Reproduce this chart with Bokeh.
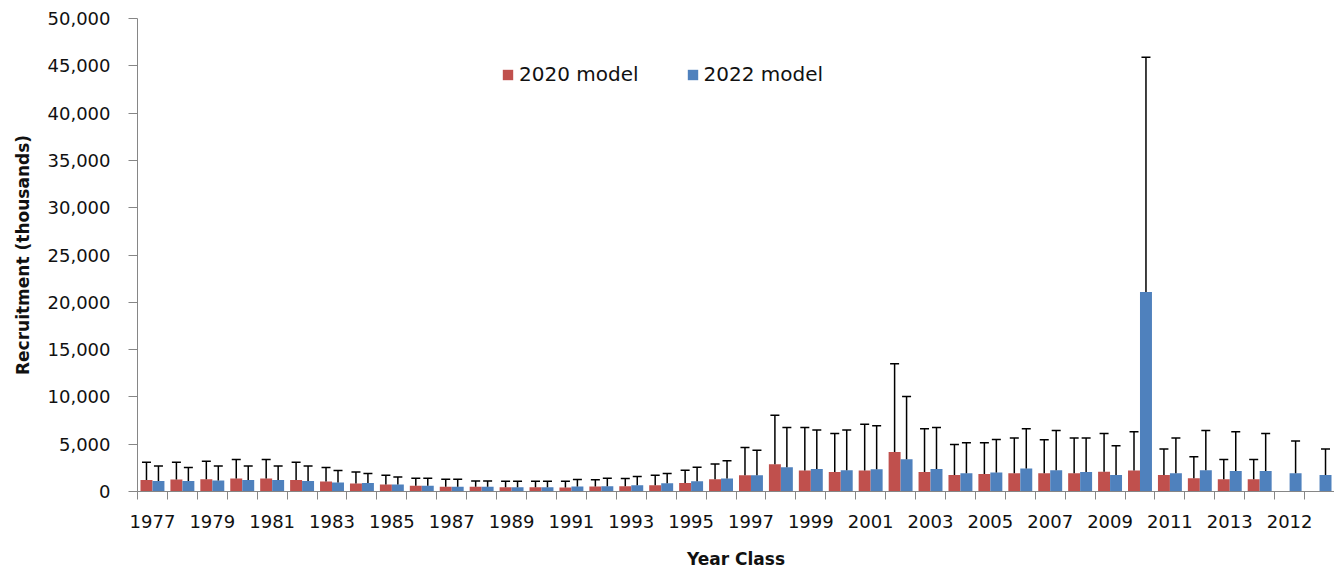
from bokeh.plotting import figure
from bokeh.models import (ColumnDataSource, Whisker, TeeHead, FixedTicker,
                          NumeralTickFormatter, Range1d, Legend, LegendItem)
from bokeh.transform import dodge
from bokeh.embed import file_html
from bokeh.resources import INLINE

# ---- data ----
categories = ["1977", "1978", "1979", "1980", "1981", "1982", "1983", "1984", "1985", "1986",
              "1987", "1988", "1989", "1990", "1991", "1992", "1993", "1994", "1995", "1996",
              "1997", "1998", "1999", "2000", "2001", "2002", "2003", "2004", "2005", "2006",
              "2007", "2008", "2009", "2010", "2011", "2012", "2013", "2014", "2012", "2016"]

model_2020 = [1220, 1260, 1300, 1370, 1370, 1220, 1050, 840, 740, 600,
              490, 490, 460, 460, 420, 530, 560, 670, 910, 1300,
              1720, 2870, 2210, 2070, 2210, 4170, 2070, 1750, 1860, 1930,
              1930, 1930, 2100, 2210, 1750, 1400, 1300, 1300, None, None]
model_2020_upper = [3080, 3080, 3190, 3370, 3370, 3080, 2530, 2070, 1720, 1400,
                    1300, 1120, 1080, 1080, 1080, 1230, 1370, 1720, 2240, 2910,
                    4660, 8070, 6770, 6140, 7120, 13500, 6630, 4980, 5160, 5650,
                    5470, 5650, 6140, 6310, 4490, 3680, 3370, 3370, None, None]

model_2022 = [1120, 1120, 1150, 1220, 1220, 1120, 950, 910, 740, 600,
              490, 490, 460, 460, 530, 560, 670, 880, 1080, 1370,
              1720, 2560, 2380, 2240, 2350, 3400, 2380, 1930, 2000, 2420,
              2240, 2070, 1750, 21100, 1930, 2240, 2170, 2170, 1930, 1750]
model_2022_upper = [2700, 2530, 2700, 2700, 2700, 2700, 2210, 1890, 1540, 1400,
                    1300, 1120, 1080, 1080, 1260, 1400, 1580, 1900, 2560, 3260,
                    4350, 6770, 6490, 6490, 6950, 10030, 6770, 5160, 5510, 6630,
                    6450, 5650, 4840, 45900, 5650, 6450, 6310, 6140, 5330, 4490]

y_ticks = list(range(0, 50001, 5000))

RED = "#C0504D"
BLUE = "#4F81BD"
AXIS = "#868686"
TEXT = "#111111"
FONT = "DejaVu Sans"

idx = list(range(len(categories)))
keep = [i for i in idx if model_2020[i] is not None]
red_src = ColumnDataSource(dict(x=keep,
                                top=[model_2020[i] for i in keep],
                                upper=[model_2020_upper[i] for i in keep]))
blue_src = ColumnDataSource(dict(x=idx, top=model_2022, upper=model_2022_upper))

p = figure(width=1334, height=571, output_backend="svg", toolbar_location=None,
           x_range=Range1d(-0.5, len(categories) - 0.5), y_range=Range1d(0, 50000),
           min_border_left=137, min_border_right=0, min_border_top=18,
           min_border_bottom=78)
p.outline_line_color = None
p.xgrid.visible = False
p.ygrid.visible = False

xr = dodge("x", -0.2, range=p.x_range)
xb = dodge("x", 0.2, range=p.x_range)
r1 = p.vbar(x=xr, top="top", width=0.4, source=red_src, fill_color=RED, line_color=None)
r2 = p.vbar(x=xb, top="top", width=0.4, source=blue_src, fill_color=BLUE, line_color=None)

for src, base in ((red_src, xr), (blue_src, xb)):
    w = Whisker(source=src, base=base, lower="top", upper="upper",
                upper_head=TeeHead(size=9, line_color="black", line_width=1.5),
                lower_head=None, line_color="black", line_width=1.5, level="overlay")
    p.add_layout(w)

# x axis: labels on every other category, tick marks at category boundaries
p.xaxis.ticker = FixedTicker(ticks=idx[::2],
                             minor_ticks=[i - 0.5 for i in range(len(categories) + 1)])
p.xaxis.major_label_overrides = {i: categories[i] for i in idx[::2]}
p.xaxis.major_tick_out = 0
p.xaxis.major_tick_in = 0
p.xaxis.minor_tick_out = 8
p.xaxis.minor_tick_in = 0
p.xaxis.minor_tick_line_color = AXIS
p.xaxis.axis_line_color = AXIS
p.xaxis.major_label_standoff = 15
p.xaxis.axis_label = "Year Class"
p.xaxis.axis_label_standoff = 18

p.yaxis.ticker = FixedTicker(ticks=y_ticks)
p.yaxis.formatter = NumeralTickFormatter(format="0,0")
p.yaxis.major_tick_out = 9
p.yaxis.major_tick_in = 0
p.yaxis.major_tick_line_color = AXIS
p.yaxis.minor_tick_line_color = None
p.yaxis.axis_line_color = AXIS
p.yaxis.major_label_standoff = 18
p.yaxis.axis_label = "Recruitment (thousands)"
p.yaxis.axis_label_standoff = 12

for ax in (p.xaxis, p.yaxis):
    ax.major_label_text_font = FONT
    ax.major_label_text_font_size = "18px"
    ax.major_label_text_color = TEXT
    ax.axis_label_text_font = FONT
    ax.axis_label_text_font_size = "17px"
    ax.axis_label_text_font_style = "bold"
    ax.axis_label_text_color = TEXT

legend = Legend(items=[LegendItem(label="2020 model", renderers=[r1]),
                       LegendItem(label="2022 model", renderers=[r2])],
                orientation="horizontal", location=(364, 405),
                glyph_width=13, glyph_height=13, label_standoff=5, spacing=47,
                padding=0, margin=0, border_line_color=None, background_fill_alpha=0,
                label_text_font=FONT, label_text_font_size="20px", label_text_color=TEXT)
p.add_layout(legend)

open("out.html", "w").write(file_html(p, INLINE))
